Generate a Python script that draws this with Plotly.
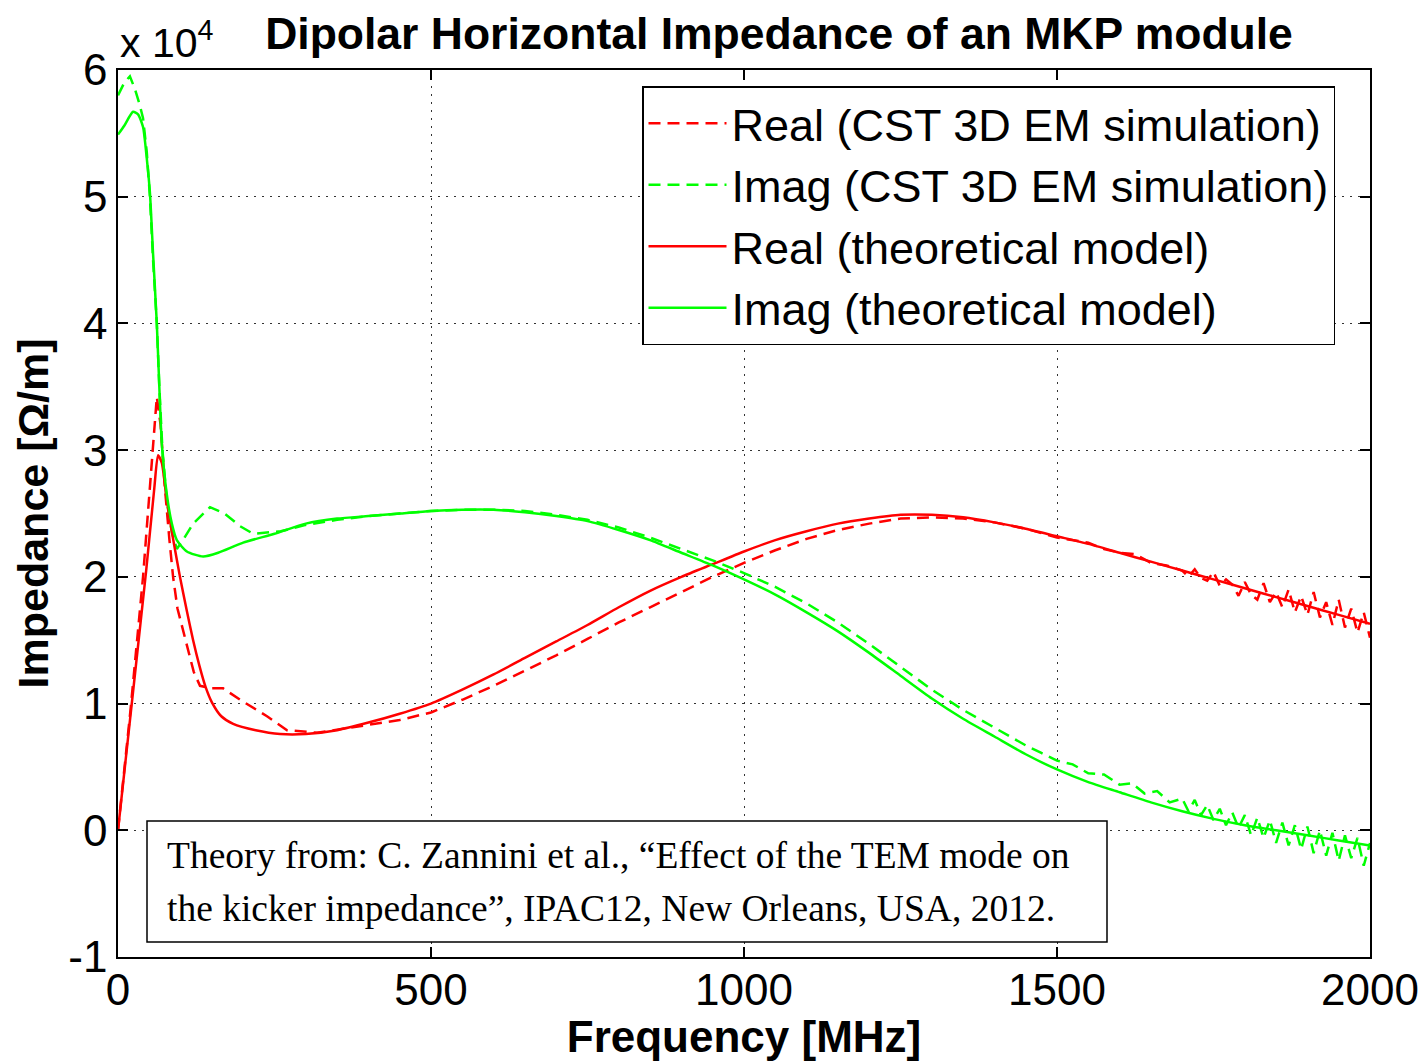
import plotly.graph_objects as go

# ---------------- data (impedance in units of 1e4 Ohm/m) ----------------
f_re_sim = [0, 20, 40, 52, 62, 68, 75, 82, 88, 95, 110, 121, 131, 150, 168, 195, 238, 270, 318, 400,
            450, 500, 550, 600, 650, 700, 750, 800, 850, 900, 950, 1000, 1050, 1100, 1150, 1200, 1250,
            1300, 1350, 1400, 1450, 1500, 1525, 1550, 1575, 1600,
            1625, 1650, 1675, 1700, 1710, 1720, 1730, 1740, 1750, 1760, 1770, 1780, 1790, 1800, 1810,
            1820, 1830, 1840, 1850, 1860, 1870, 1880, 1890, 1900, 1910, 1920, 1930, 1940, 1950, 1960,
            1970, 1980, 1990, 2000]
re_sim = [0, 0.95, 2.0, 2.8, 3.42, 3.2, 2.7, 2.3, 2.0, 1.75, 1.45, 1.25, 1.14, 1.12, 1.12, 1.03, 0.9, 0.79,
          0.77, 0.83, 0.87, 0.93, 1.03, 1.14, 1.26, 1.38, 1.51, 1.64, 1.76, 1.88, 2.0, 2.11, 2.21, 2.3,
          2.37, 2.42, 2.46, 2.47, 2.46, 2.43, 2.38, 2.31, 2.29, 2.27,
          2.22, 2.19, 2.18, 2.11, 2.09, 2.05, 2.0, 2.06, 1.99, 1.97, 2.04, 1.93, 1.98, 1.94, 1.85, 1.96,
          1.86, 1.82, 1.95, 1.8, 1.88, 1.76, 1.9, 1.72, 1.85, 1.7, 1.88, 1.68, 1.8, 1.62, 1.82, 1.6,
          1.75, 1.56, 1.72, 1.52]

f_im_sim = [0, 10, 19, 27, 35, 40, 46, 51, 56, 62, 66, 71, 78, 86, 94, 105, 120, 147, 170, 195, 216, 260,
            300, 350, 400, 450, 500, 550, 600, 650, 700, 750, 800, 850, 900, 950, 1000, 1050, 1100, 1150,
            1200, 1250, 1300, 1350, 1400, 1450, 1475, 1500, 1525,
            1550, 1575, 1600, 1620, 1640, 1660, 1680, 1700, 1710, 1720, 1730, 1740, 1750, 1760, 1770,
            1780, 1790, 1800, 1810, 1820, 1830, 1840, 1850, 1860, 1870, 1880, 1890, 1900, 1910, 1920,
            1930, 1940, 1950, 1960, 1970, 1980, 1990, 2000]
im_sim = [5.8, 5.9, 5.95, 5.85, 5.72, 5.62, 5.35, 5.0, 4.5, 4.0, 3.5, 3.0, 2.6, 2.35, 2.22, 2.3, 2.42, 2.55,
          2.5, 2.4, 2.34, 2.36, 2.41, 2.45, 2.48, 2.5, 2.52, 2.53, 2.53, 2.52, 2.49, 2.45, 2.39, 2.31,
          2.22, 2.13, 2.03, 1.92, 1.79, 1.64, 1.47, 1.29, 1.11, 0.95, 0.81, 0.67, 0.61, 0.55, 0.52,
          0.45, 0.44, 0.36, 0.37, 0.29, 0.31, 0.22, 0.25, 0.15, 0.24, 0.12, 0.2,
          0.08, 0.17, 0.04, 0.14, 0.02, 0.12, -0.04, 0.1, -0.06, 0.08, -0.1, 0.06, -0.12, 0.04, -0.15,
          0.03, -0.18, 0.0, -0.2, -0.02, -0.24, -0.04, -0.22, -0.06, -0.28, -0.1]

f_re_th = [0, 22, 45, 58, 64, 70, 78, 88, 99, 110, 120, 130, 140, 150, 165, 184, 220, 259, 300, 350,
           400, 450, 500, 550, 600, 650, 700, 750, 800, 850, 900, 950, 1000, 1050, 1100, 1150, 1200,
           1250, 1300, 1350, 1400, 1450, 1500, 1550, 1600, 1650, 1700, 1750, 1800, 1850, 1900, 1950,
           2000]
re_th = [0, 1.0, 2.05, 2.7, 2.96, 2.9, 2.6, 2.3, 2.0, 1.73, 1.5, 1.3, 1.13, 1.01, 0.9, 0.84, 0.79, 0.76,
         0.76, 0.79, 0.85, 0.92, 1.0, 1.11, 1.23, 1.36, 1.49, 1.62, 1.76, 1.89, 2.0, 2.1, 2.2, 2.29,
         2.36, 2.42, 2.46, 2.49, 2.49, 2.47, 2.43, 2.38, 2.32, 2.26, 2.19, 2.12, 2.05, 1.98, 1.91,
         1.84, 1.77, 1.7, 1.63]

f_im_th = [0, 10, 24, 32, 40, 46, 51, 56, 62, 66, 70, 78, 86, 94, 110, 136, 160, 200, 250, 300, 350,
           400, 450, 500, 550, 600, 650, 700, 750, 800, 850, 900, 950, 1000, 1050, 1100, 1150, 1200,
           1250, 1300, 1350, 1400, 1450, 1500, 1550, 1600, 1650, 1700, 1750, 1800, 1850, 1900, 1950,
           2000]
im_th = [5.49, 5.56, 5.67, 5.65, 5.55, 5.3, 5.03, 4.55, 4.0, 3.5, 3.05, 2.65, 2.42, 2.29, 2.2, 2.16, 2.19,
         2.27, 2.34, 2.42, 2.46, 2.48, 2.5, 2.52, 2.53, 2.53, 2.51, 2.48, 2.44, 2.37, 2.29, 2.19, 2.09,
         1.98, 1.86, 1.72, 1.57, 1.4, 1.22, 1.04, 0.88, 0.74, 0.6, 0.48, 0.38, 0.3, 0.22, 0.15, 0.09,
         0.04, 0.0, -0.04, -0.08, -0.12]

legend_names = ["Real (CST 3D EM simulation)", "Imag (CST 3D EM simulation)",
                "Real (theoretical model)", "Imag (theoretical model)"]
x_ticks = [0, 500, 1000, 1500, 2000]
y_ticks = [-1, 0, 1, 2, 3, 4, 5, 6]

RED = "#FF0000"
GREEN = "#00FF00"
SANS = "Liberation Sans, Arial, sans-serif"
SERIF = "Liberation Serif, Times New Roman, serif"
DASH = "12px,7px"

fig = go.Figure()
fig.add_trace(go.Scatter(x=f_re_sim, y=re_sim, mode="lines", name=legend_names[0],
                         line=dict(color=RED, width=2.5, dash=DASH)))
fig.add_trace(go.Scatter(x=f_im_sim, y=im_sim, mode="lines", name=legend_names[1],
                         line=dict(color=GREEN, width=2.5, dash=DASH)))
fig.add_trace(go.Scatter(x=f_re_th, y=re_th, mode="lines", name=legend_names[2],
                         line=dict(color=RED, width=2.5, shape="spline", smoothing=0.6)))
fig.add_trace(go.Scatter(x=f_im_th, y=im_th, mode="lines", name=legend_names[3],
                         line=dict(color=GREEN, width=2.5, shape="spline", smoothing=0.6)))

axis_common = dict(
    showline=True, linecolor="black", linewidth=1.5, mirror="allticks",
    ticks="inside", ticklen=10, tickcolor="black", tickwidth=1.5,
    showgrid=True, gridcolor="#333333", gridwidth=1, griddash="2px,6px",
    zeroline=False, automargin=False, tickfont=dict(family=SANS, size=44, color="black"),
)

fig.update_xaxes(range=[0, 2000], tickvals=x_ticks, ticktext=[str(v) for v in x_ticks],
                 ticklabelstandoff=-7,
                 title=dict(text="<b>Frequency [MHz]</b>", font=dict(family=SANS, size=44, color="black"),
                            standoff=12),
                 **axis_common)
fig.update_yaxes(range=[-1, 6], tickvals=y_ticks, ticktext=[str(v) for v in y_ticks],
                 title=dict(text="<b>Impedance [Ω/m]</b>", font=dict(family=SANS, size=43, color="black"),
                            standoff=6),
                 **axis_common)

fig.update_layout(
    width=1427, height=1061,
    margin=dict(l=118, r=57, t=70, b=104, autoexpand=False),
    paper_bgcolor="white", plot_bgcolor="white",
    title=dict(text="<b>Dipolar Horizontal Impedance of an MKP module</b>",
               font=dict(family=SANS, size=44.5, color="black"),
               x=779 / 1427, xanchor="center", y=1 - 33 / 1061, yanchor="middle"),
    legend=dict(x=(642 - 118) / 1252, xanchor="left", y=(957 - 86) / 887, yanchor="top",
                bgcolor="white", bordercolor="black", borderwidth=1.5,
                font=dict(family=SANS, size=45, color="black"), itemwidth=78,
                tracegroupgap=0),
    showlegend=True,
)

# exponent label
fig.add_annotation(xref="paper", yref="paper", x=0, y=(957 - 40) / 887, xanchor="left", yanchor="middle",
                   text="x 10<sup>4</sup>", showarrow=False,
                   font=dict(family=SANS, size=41, color="black"))

# reference box
fig.add_shape(type="rect", xref="paper", yref="paper",
              x0=(147 - 118) / 1252, x1=(1107 - 118) / 1252,
              y0=(957 - 942) / 887, y1=(957 - 821) / 887,
              line=dict(color="black", width=1.5), fillcolor="white", layer="above")
fig.add_annotation(xref="paper", yref="paper", x=(165 - 118) / 1252, y=(957 - 855) / 887,
                   xanchor="left", yanchor="middle", showarrow=False,
                   text="Theory from: C. Zannini et al., “Effect of the TEM mode on",
                   font=dict(family=SERIF, size=37.5, color="black"))
fig.add_annotation(xref="paper", yref="paper", x=(165 - 118) / 1252, y=(957 - 908) / 887,
                   xanchor="left", yanchor="middle", showarrow=False,
                   text="the kicker impedance”, IPAC12, New Orleans, USA, 2012.",
                   font=dict(family=SERIF, size=37.5, color="black"))

fig.write_html("out.html")
